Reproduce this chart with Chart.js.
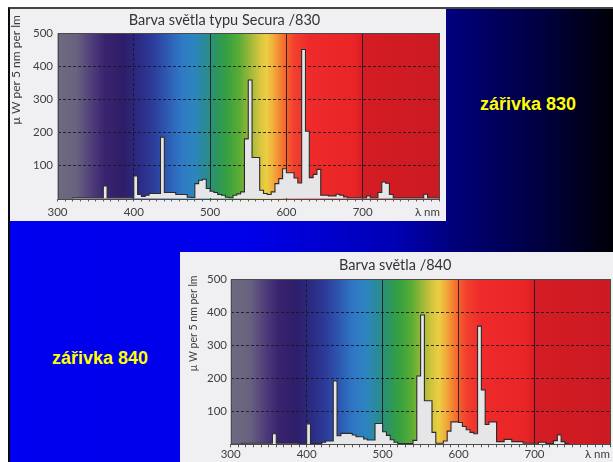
<!DOCTYPE html>
<html>
<head>
<meta charset="utf-8">
<script src="https://cdn.jsdelivr.net/npm/chart.js@4.4.1/dist/chart.umd.min.js"></script>
<style>
  html, body { margin: 0; padding: 0; background: #ffffff; width: 613px; height: 462px; overflow: hidden; }
  #slide {
    position: absolute; left: 8px; top: 7px; width: 603px; height: 453px;
    border-top: 2px solid #454545; border-left: 2px solid #0a0a14;
    background: linear-gradient(90deg, #0000f0 0%, #0000e8 40%, #0000b4 64%, #000078 74%, #000040 88%, #000008 100%);
  }
  .panel { position: absolute; background: #f0f0f2; }
  #p830 { left: 10px; top: 9px; width: 436px; height: 212px; }
  #p840 { left: 180px; top: 252px; width: 433px; height: 210px; }
  .tag {
    position: absolute; color: #ffff00; white-space: nowrap;
    font: bold 18px "Liberation Sans", Arial, sans-serif;
    transform: translate(-50%, -50%);
  }
</style>
</head>
<body>
<div id="slide"></div>
<div class="panel" id="p830"><canvas id="c830" width="436" height="212"></canvas></div>
<div class="panel" id="p840"><canvas id="c840" width="433" height="210"></canvas></div>
<div class="tag" style="left:528px; top:104px;">zářivka 830</div>
<div class="tag" style="left:100px; top:358px;">zářivka 840</div>

<script>
// Spectral power distribution, 5 nm bins: each value holds from its wavelength to the next one.
const nm830 = [300,320,360,365,400,405,410,415,420,435,440,455,470,475,480,485,490,495,500,505,
               510,515,520,525,530,535,540,545,550,555,565,570,575,580,585,590,595,600,610,615,
               620,625,630,635,640,645,655,665,670,675,680,705,710,720,725,730,735,740,780,785,800];
const uW830 = [0,2,38,2,68,12,6,10,15,185,18,12,4,3,45,55,58,30,22,18,
               12,10,4,2,10,14,20,180,358,124,25,15,12,20,45,60,90,78,62,47,
               450,203,63,73,88,10,8,13,10,5,2,8,2,18,50,46,12,2,13,2,2];

const nm840 = [300,315,355,360,390,400,405,420,425,435,440,445,460,465,475,480,490,500,505,510,
               515,520,540,545,550,555,565,570,580,585,590,600,605,610,615,620,625,630,635,640,
               650,660,670,685,700,705,715,725,730,735,740,745,800];
const uW840 = [0,3,32,3,0,62,2,6,10,192,26,33,28,23,16,13,63,38,27,14,
               6,2,12,207,392,132,36,3,10,40,68,66,54,44,36,32,358,165,60,68,
               8,15,8,3,0,6,2,11,28,8,2,0];

// Axis labelling
const xTickLabels = [300, 400, 500, 600, 700];
const xGridLines = [400, 500, 600, 700];
const xDashedLines = [400];
const yTickLabels = [100, 200, 300, 400, 500];
const yGridLines = [100, 200, 300, 400];
const yAxisTitle = 'µ W per 5 nm per lm';
const xUnitLabel = 'λ nm';

// Colour of visible light behind the plot, keyed by wavelength
const bandNm = [300, 325, 345, 362, 385, 405, 425, 445, 462, 480, 495, 508, 522, 538, 552, 565, 574, 584, 596, 610, 630, 690, 702, 800];
const bandColor = ['#6e6a82', '#69627f', '#4f3d7a', '#3a2470', '#2e1d68', '#2b2a82', '#2d3b9a', '#2d5cb4',
                   '#2f78c6', '#2c86bd', '#2a8b93', '#2c9560', '#36a040', '#5aac36', '#9ab838', '#d6c43e',
                   '#ecce42', '#f2a83a', '#f4702e', '#f2402e', '#ee2a2a', '#e82426', '#d41c24', '#cc1a22'];

const spectrumBackdrop = {
  id: 'spectrumBackdrop',
  beforeDraw(chart) {
    const { ctx, chartArea: a, scales: { x } } = chart;
    const g = ctx.createLinearGradient(a.left, 0, a.right, 0);
    bandNm.forEach((w, i) => {
      const t = (x.getPixelForValue(w) - a.left) / (a.right - a.left);
      g.addColorStop(Math.min(1, Math.max(0, t)), bandColor[i]);
    });
    ctx.save();
    ctx.fillStyle = g;
    ctx.fillRect(a.left, a.top, a.right - a.left, a.bottom - a.top);
    ctx.restore();
  },
  afterDraw(chart, args, o) {
    const { ctx, chartArea: a } = chart;
    ctx.save();
    // plot frame
    ctx.strokeStyle = '#4a4a4a';
    ctx.lineWidth = 1;
    ctx.strokeRect(Math.round(a.left) + 0.5, Math.round(a.top) + 0.5,
                   Math.round(a.right - a.left) - 1, Math.round(a.bottom - a.top));
    // unit label at the right end of the wavelength axis
    ctx.fillStyle = '#3e3e3e';
    ctx.font = o.tickSize + 'px Lato';
    ctx.textAlign = 'right';
    ctx.textBaseline = 'middle';
    ctx.fillText(xUnitLabel, a.right + o.unitDx, a.bottom + o.unitDy);
    // rotated y-axis title
    ctx.translate(a.left - o.yTitleDx, a.top + o.yTitleDy);
    ctx.rotate(-Math.PI / 2);
    ctx.textAlign = 'center';
    ctx.font = o.yTitleSize + 'px Lato';
    ctx.fillText(yAxisTitle, 0, 0);
    ctx.restore();
  }
};

function buildChart(id, nm, uW, cfg) {
  const gridColor = 'rgba(22,22,30,0.85)';
  const tickFont = { family: 'Lato', size: cfg.tickSize };
  return new Chart(document.getElementById(id), {
    type: 'line',
    data: {
      datasets: [{
        data: nm.map((w, i) => ({ x: w, y: uW[i] })),
        stepped: true,
        fill: 'origin',
        backgroundColor: '#e6e6e8',
        borderColor: '#2b2b2b',
        borderWidth: 1.1,
        pointRadius: 0,
        tension: 0
      }]
    },
    options: {
      responsive: false,
      animation: false,
      events: [],
      layout: { padding: { left: 0, right: cfg.padRight, top: 0, bottom: 0 } },
      plugins: {
        legend: { display: false },
        tooltip: { enabled: false },
        title: {
          display: true,
          text: cfg.title,
          color: '#333333',
          font: { family: 'Lato', size: cfg.titleSize, weight: 'normal' },
          padding: { top: cfg.titleTop, bottom: cfg.titleBottom }
        },
        spectrumBackdrop: {
          tickSize: cfg.tickSize, unitDx: cfg.unitDx, unitDy: cfg.unitDy,
          yTitleDx: cfg.yTitleDx, yTitleDy: cfg.yTitleDy, yTitleSize: cfg.yTitleSize
        }
      },
      scales: {
        x: {
          type: 'linear', min: 300, max: 800,
          afterFit: s => { s.height = cfg.xAxisHeight; },
          ticks: {
            stepSize: 10, autoSkip: false, maxRotation: 0, minRotation: 0, maxTicksLimit: 200,
            padding: cfg.xTickPad, color: '#3e3e3e', font: tickFont,
            callback: v => (xTickLabels.includes(Math.round(v)) ? String(Math.round(v)) : '')
          },
          grid: {
            color: c => (c.tick && xGridLines.includes(Math.round(c.tick.value)) ? gridColor : 'rgba(0,0,0,0)'),
            tickColor: '#5a5a5a', tickLength: 3, lineWidth: 1
          },
          border: { display: false, dash: c => (c.tick && xDashedLines.includes(Math.round(c.tick.value)) ? [3, 2] : []) }
        },
        y: {
          min: 0, max: 500,
          afterFit: s => { s.width = cfg.yAxisWidth; },
          ticks: {
            stepSize: 100, padding: cfg.yTickPad, color: '#3e3e3e', font: tickFont,
            callback: v => (yTickLabels.includes(v) ? String(v) : '')
          },
          grid: {
            color: c => (c.tick && yGridLines.includes(c.tick.value) ? gridColor : 'rgba(0,0,0,0)'),
            drawTicks: false, lineWidth: 1
          },
          border: { display: false, dash: [3, 2] }
        }
      }
    },
    plugins: [spectrumBackdrop]
  });
}

buildChart('c830', nm830, uW830, {
  title: 'Barva světla typu Secura /830', titleSize: 14.5, titleTop: 2.3, titleBottom: 4.3,
  padRight: 7, yAxisWidth: 47.5, xAxisHeight: 22.5, tickSize: 11.5, xTickPad: 3.5, yTickPad: 4.5,
  unitDx: 1, unitDy: 14, yTitleDx: 41.5, yTitleDy: 37, yTitleSize: 12
});

buildChart('c840', nm840, uW840, {
  title: 'Barva světla /840', titleSize: 14.5, titleTop: 4.3, titleBottom: 5.6,
  padRight: 2.5, yAxisWidth: 50.7, xAxisHeight: 17.7, tickSize: 11.5, xTickPad: 0, yTickPad: 3.7,
  unitDx: -0.5, unitDy: 9.5, yTitleDx: 37.2, yTitleDy: 44.2, yTitleSize: 10.5
});
</script>
</body>
</html>
